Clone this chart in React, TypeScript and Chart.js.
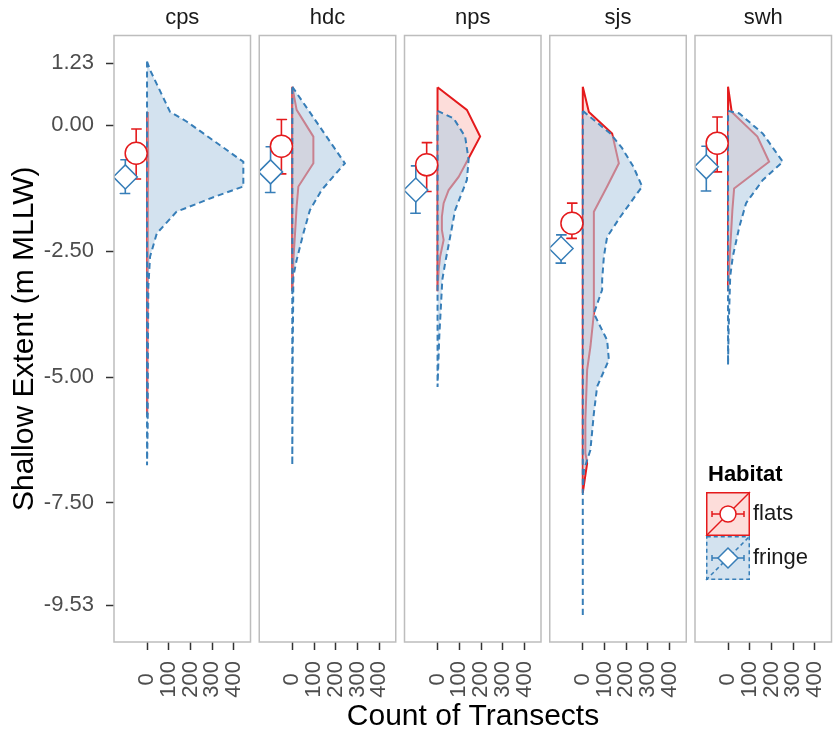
import React, { useEffect, useRef } from "react";
import { Chart, registerables } from "chart.js";

Chart.register(...registerables);

// ---------------- data ----------------
const facets = ["cps", "hdc", "nps", "sjs", "swh"];
const yTickValues = [1.23, 0, -2.5, -5, -7.5, -9.53];
const xTickValues = [0, 100, 200, 300, 400];
const habitats = ["flats", "fringe"];

// frequency profiles (depth in m MLLW, count of transects)
const cpsFlatsDepth = [0.26, -0.25, -0.75, -1.25, -2.0, -3.0, -4.5, -5.75];
const cpsFlatsCount = [0, 4, 6, 4, 2, 1, 1, 0];
const cpsFringeDepth = [1.26, 1.09, 0.26, 0.07, -0.73, -1.22, -1.42, -1.72, -2.15, -2.61, -3.2, -4.5, -6.0, -6.75];
const cpsFringeCount = [0, 14, 106, 182, 443, 443, 313, 136, 45, 14, 6, 4, 3, 0];

const hdcFlatsDepth = [0.76, 0.3, -0.23, -0.76, -1.22, -1.62, -2.2, -2.68, -3.3];
const hdcFlatsCount = [0, 20, 97, 97, 28, 20, 12, 5, 0];
const hdcFringeDepth = [0.76, -0.76, -1.29, -1.69, -2.15, -2.68, -3.0, -4.5, -6.75];
const hdcFringeCount = [0, 242, 135, 81, 51, 20, 5, 2, 0];

const npsFlatsDepth = [0.75, 0.3, -0.23, -0.66, -1.03, -1.29, -1.55, -1.82, -2.08, -2.28, -2.61, -2.88, -3.3];
const npsFlatsCount = [0, 135, 196, 143, 97, 51, 28, 20, 20, 28, 12, 5, 0];
const npsFringeDepth = [0.28, 0.13, -0.23, -0.69, -1.09, -1.69, -2.22, -2.74, -3.07, -4.2, -5.2];
const npsFringeCount = [0, 74, 127, 143, 135, 81, 58, 35, 22, 8, 0];

const sjsFlatsDepth = [0.76, 0.26, -0.17, -0.76, -1.22, -1.72, -3.74, -4.4, -4.86, -5.85, -6.51, -6.71, -7.3];
const sjsFlatsCount = [0, 28, 135, 166, 112, 51, 51, 35, 20, 12, 12, 20, 0];
const sjsFringeDepth = [0.28, -0.17, -0.46, -0.83, -1.22, -1.82, -2.22, -2.61, -3.08, -3.27, -3.74, -4.27, -4.66, -5.19, -5.72, -6.45, -6.85, -7.24, -9.76];
const sjsFringeCount = [0, 127, 181, 233, 273, 173, 112, 97, 89, 89, 51, 112, 120, 66, 51, 35, 5, 0, 0];

const swhFlatsDepth = [0.76, 0.26, -0.23, -0.73, -1.26, -1.69, -2.3, -2.8, -3.3];
const swhFlatsCount = [0, 17, 135, 189, 28, 20, 12, 5, 0];
const swhFringeDepth = [0.28, 0.23, -0.17, -0.73, -1.09, -1.55, -2.02, -2.61, -3.0, -4.0, -4.76];
const swhFringeCount = [0, 52, 160, 252, 160, 83, 52, 22, 10, 3, 0];

// mean shallow extent with error bars, per facet
const flatsMean = [-0.56, -0.42, -0.79, -1.95, -0.36];
const flatsLow = [-1.07, -0.97, -1.32, -2.25, -0.93];
const flatsHigh = [-0.08, 0.11, -0.35, -1.55, 0.16];
const fringeMean = [-1.03, -0.93, -1.29, -2.45, -0.83];
const fringeLow = [-1.36, -1.34, -1.75, -2.74, -1.31];
const fringeHigh = [-0.69, -0.43, -0.81, -2.18, -0.42];

// dodge positions of the summary points on the count axis
const flatsX = -50;
const fringeX = -100;
const capHalf = 23;

const flatsProfiles = [
  [cpsFlatsDepth, cpsFlatsCount],
  [hdcFlatsDepth, hdcFlatsCount],
  [npsFlatsDepth, npsFlatsCount],
  [sjsFlatsDepth, sjsFlatsCount],
  [swhFlatsDepth, swhFlatsCount],
];
const fringeProfiles = [
  [cpsFringeDepth, cpsFringeCount],
  [hdcFringeDepth, hdcFringeCount],
  [npsFringeDepth, npsFringeCount],
  [sjsFringeDepth, sjsFringeCount],
  [swhFringeDepth, swhFringeCount],
];

// ---------------- style / layout ----------------
const FONT = "'Liberation Sans', Arial, Helvetica, sans-serif";
const RED = "#E41A1C";
const BLUE = "#377EB8";
const RED_FILL = "rgba(251,180,174,0.45)";
const BLUE_FILL = "rgba(179,205,227,0.58)";

const X_MIN = -152;
const X_MAX = 476;
const Y_MIN = -10.258;
const Y_MAX = 1.776;

const PANEL_LEFT0 = 114;
const PANEL_STEP = 145.25;
const PANEL_W = 136.5;
const Y_AXIS_W = 114;
const CANVAS_H = 736;
const X_AXIS_H = 94;
const AXIS_TITLE_SIZE = 30;

Chart.defaults.font.family = FONT;

function profileData(depth: number[], count: number[]) {
  const pts = depth.map((d, k) => ({ x: count[k], y: d }));
  pts.push({ x: 0, y: depth[0] }); // back up along the baseline
  return pts;
}

function errorBarData(x: number, lo: number, hi: number) {
  return [
    { x: x - capHalf, y: hi },
    { x: x + capHalf, y: hi },
    { x, y: hi },
    { x, y: lo },
    { x: x - capHalf, y: lo },
    { x: x + capHalf, y: lo },
  ];
}

const panelBorder = {
  id: "panelBorder",
  afterDatasetsDraw(chart: any) {
    const { ctx, chartArea: a } = chart;
    ctx.save();
    ctx.strokeStyle = "#bdbdbd";
    ctx.lineWidth = 1.5;
    ctx.strokeRect(a.left, a.top, a.right - a.left, a.bottom - a.top);
    ctx.restore();
  },
};

const habitatLegend = {
  id: "habitatLegend",
  afterDraw(chart: any) {
    const { ctx, chartArea: a } = chart;
    const keyLeft = a.left + 11;
    const keySize = 44;
    const keyTop0 = 492;
    ctx.save();
    ctx.textAlign = "left";
    ctx.textBaseline = "middle";
    ctx.fillStyle = "#000";
    ctx.font = `bold 22px ${FONT}`;
    ctx.fillText("Habitat", a.left + 13, 475);
    const keys = [
      { label: habitats[0], color: RED, fill: RED_FILL, dash: [] as number[], shape: "circle" },
      { label: habitats[1], color: BLUE, fill: BLUE_FILL, dash: [4, 3], shape: "diamond" },
    ];
    keys.forEach((k, j) => {
      const top = keyTop0 + j * keySize;
      const cx = keyLeft + keySize / 2;
      const cy = top + keySize / 2;
      ctx.fillStyle = "#fff";
      ctx.fillRect(keyLeft, top, keySize, keySize);
      ctx.fillStyle = k.fill;
      ctx.fillRect(keyLeft, top, keySize, keySize);
      ctx.strokeStyle = k.color;
      ctx.lineWidth = 1.5;
      ctx.setLineDash(k.dash);
      ctx.strokeRect(keyLeft + 0.75, top + 0.75, keySize - 1.5, keySize - 1.5);
      ctx.beginPath();
      ctx.moveTo(keyLeft, top + keySize);
      ctx.lineTo(keyLeft + keySize, top);
      ctx.stroke();
      ctx.setLineDash([]);
      ctx.beginPath();
      ctx.moveTo(keyLeft + 6, cy);
      ctx.lineTo(keyLeft + keySize - 6, cy);
      ctx.moveTo(keyLeft + 6, cy - 3);
      ctx.lineTo(keyLeft + 6, cy + 3);
      ctx.moveTo(keyLeft + keySize - 6, cy - 3);
      ctx.lineTo(keyLeft + keySize - 6, cy + 3);
      ctx.stroke();
      ctx.beginPath();
      if (k.shape === "circle") {
        ctx.arc(cx, cy, 8, 0, Math.PI * 2);
      } else {
        ctx.moveTo(cx - 10, cy);
        ctx.lineTo(cx, cy - 10);
        ctx.lineTo(cx + 10, cy);
        ctx.lineTo(cx, cy + 10);
        ctx.closePath();
      }
      ctx.fillStyle = "#fff";
      ctx.fill();
      ctx.stroke();
      ctx.fillStyle = "#1a1a1a";
      ctx.font = `22px ${FONT}`;
      ctx.fillText(k.label, keyLeft + keySize + 3, cy);
    });
    ctx.restore();
  },
};

function zeroPadding(s: any) {
  s.paddingLeft = 0;
  s.paddingRight = 0;
  s.paddingTop = 0;
  s.paddingBottom = 0;
}

function panelGeometry(i: number) {
  const panelLeft = PANEL_LEFT0 + PANEL_STEP * i;
  const canvasLeft = i === 0 ? 0 : Math.floor(panelLeft) - 4;
  const width = Math.ceil(panelLeft + PANEL_W + 4.5 - canvasLeft);
  const padLeft = i === 0 ? 0 : panelLeft - canvasLeft;
  const padRight = canvasLeft + width - (panelLeft + PANEL_W);
  return { canvasLeft, width, padLeft, padRight };
}

function buildConfig(i: number): any {
  const first = i === 0;
  const { padLeft, padRight } = panelGeometry(i);
  const [flD, flC] = flatsProfiles[i];
  const [frD, frC] = fringeProfiles[i];
  const datasets = [
    {
      label: "fringe mean",
      data: [{ x: fringeX, y: fringeMean[i] }],
      showLine: false,
      pointStyle: "rectRot",
      pointRadius: 12,
      pointBackgroundColor: "#fff",
      pointBorderColor: BLUE,
      pointBorderWidth: 1.5,
    },
    {
      label: "flats mean",
      data: [{ x: flatsX, y: flatsMean[i] }],
      showLine: false,
      pointStyle: "circle",
      pointRadius: 11,
      pointBackgroundColor: "#fff",
      pointBorderColor: RED,
      pointBorderWidth: 1.5,
    },
    {
      label: "fringe error",
      data: errorBarData(fringeX, fringeLow[i], fringeHigh[i]),
      borderColor: BLUE,
      borderWidth: 1.6,
      borderJoinStyle: "round",
      pointRadius: 0,
      fill: false,
    },
    {
      label: "flats error",
      data: errorBarData(flatsX, flatsLow[i], flatsHigh[i]),
      borderColor: RED,
      borderWidth: 1.6,
      borderJoinStyle: "round",
      pointRadius: 0,
      fill: false,
    },
    {
      label: "fringe",
      data: profileData(frD, frC),
      borderColor: BLUE,
      borderWidth: 2,
      borderDash: [6, 4],
      backgroundColor: BLUE_FILL,
      fill: "shape",
      pointRadius: 0,
    },
    {
      label: "flats",
      data: profileData(flD, flC),
      borderColor: RED,
      borderWidth: 2,
      backgroundColor: RED_FILL,
      fill: "shape",
      pointRadius: 0,
    },
  ];
  return {
    type: "line",
    data: { datasets },
    plugins: i === 4 ? [panelBorder, habitatLegend] : [panelBorder],
    options: {
      animation: false,
      responsive: false,
      events: [],
      layout: { autoPadding: false, padding: { left: padLeft, right: padRight, top: 0, bottom: 0 } },
      plugins: {
        legend: { display: false },
        tooltip: { enabled: false },
        title: {
          display: true,
          text: facets[i],
          fullSize: false,
          color: "#1a1a1a",
          font: { size: 22, family: FONT, weight: "normal" },
          padding: { top: 4.5, bottom: 4.6 },
        },
      },
      scales: {
        x: {
          type: "linear",
          min: X_MIN,
          max: X_MAX,
          afterBuildTicks: (s: any) => {
            s.ticks = xTickValues.map((v) => ({ value: v }));
          },
          afterFit: (s: any) => {
            s.height = X_AXIS_H;
            zeroPadding(s);
          },
          ticks: {
            autoSkip: false,
            minRotation: 90,
            maxRotation: 90,
            padding: 11,
            color: "#4d4d4d",
            font: { size: 22, family: FONT },
            callback: (v: any) => (Number(v) === 0 ? "0  " : String(v)),
          },
          grid: {
            display: true,
            drawOnChartArea: false,
            drawTicks: true,
            tickLength: 8,
            tickWidth: 1.5,
            tickColor: "#333",
          },
          border: { display: false },
        },
        y: {
          type: "linear",
          display: first,
          min: Y_MIN,
          max: Y_MAX,
          afterBuildTicks: (s: any) => {
            s.ticks = yTickValues.map((v) => ({ value: v }));
          },
          afterFit: (s: any) => {
            if (first) s.width = Y_AXIS_W;
            zeroPadding(s);
          },
          ticks: {
            padding: 12,
            color: "#4d4d4d",
            font: { size: 22, family: FONT },
            callback: (v: any) => Number(v).toFixed(2),
          },
          grid: {
            display: true,
            drawOnChartArea: false,
            drawTicks: true,
            tickLength: 8,
            tickWidth: 1.5,
            tickColor: "#333",
          },
          border: { display: false },
          title: {
            display: first,
            text: "Shallow Extent (m MLLW)",
            color: "#000",
            font: { size: AXIS_TITLE_SIZE, family: FONT },
            padding: { top: 7, bottom: 0 },
          },
        },
      },
    },
  };
}

function Panel({ index }: { index: number }) {
  const ref = useRef<HTMLCanvasElement | null>(null);
  const { canvasLeft, width } = panelGeometry(index);
  useEffect(() => {
    if (!ref.current) return;
    const chart = new Chart(ref.current, buildConfig(index));
    return () => chart.destroy();
  }, [index]);
  return (
    <canvas
      ref={ref}
      width={width}
      height={CANVAS_H}
      style={{ position: "absolute", left: canvasLeft, top: 0, width, height: CANVAS_H }}
    />
  );
}

// shared x-axis title spanning all facets
const TITLE_LEFT = PANEL_LEFT0;
const TITLE_RIGHT = PANEL_LEFT0 + PANEL_STEP * 4 + PANEL_W;
const TITLE_TOP = 696;

function SharedXTitle() {
  const ref = useRef<HTMLCanvasElement | null>(null);
  const width = Math.round(TITLE_RIGHT - TITLE_LEFT);
  const height = CANVAS_H - TITLE_TOP;
  useEffect(() => {
    if (!ref.current) return;
    const chart = new Chart(ref.current, {
      type: "line",
      data: { datasets: [] },
      options: {
        animation: false,
        responsive: false,
        events: [],
        layout: { autoPadding: false, padding: 0 },
        plugins: { legend: { display: false }, tooltip: { enabled: false } },
        scales: {
          x: {
            type: "linear",
            min: 0,
            max: 1,
            ticks: { display: false },
            grid: { display: false, drawTicks: false },
            border: { display: false },
            title: {
              display: true,
              text: "Count of Transects",
              color: "#000",
              font: { size: AXIS_TITLE_SIZE, family: FONT },
              padding: { top: 0, bottom: 1 },
            },
          },
          y: { display: false },
        },
      },
    } as any);
    return () => chart.destroy();
  }, []);
  return (
    <canvas
      ref={ref}
      width={width}
      height={height}
      style={{ position: "absolute", left: TITLE_LEFT, top: TITLE_TOP, width, height }}
    />
  );
}

export default function App() {
  return (
    <div
      style={{
        position: "absolute",
        left: 0,
        top: 0,
        width: 833,
        height: 736,
        background: "#fff",
        overflow: "hidden",
      }}
    >
      {facets.map((f, i) => (
        <Panel key={f} index={i} />
      ))}
      <SharedXTitle />
    </div>
  );
}
